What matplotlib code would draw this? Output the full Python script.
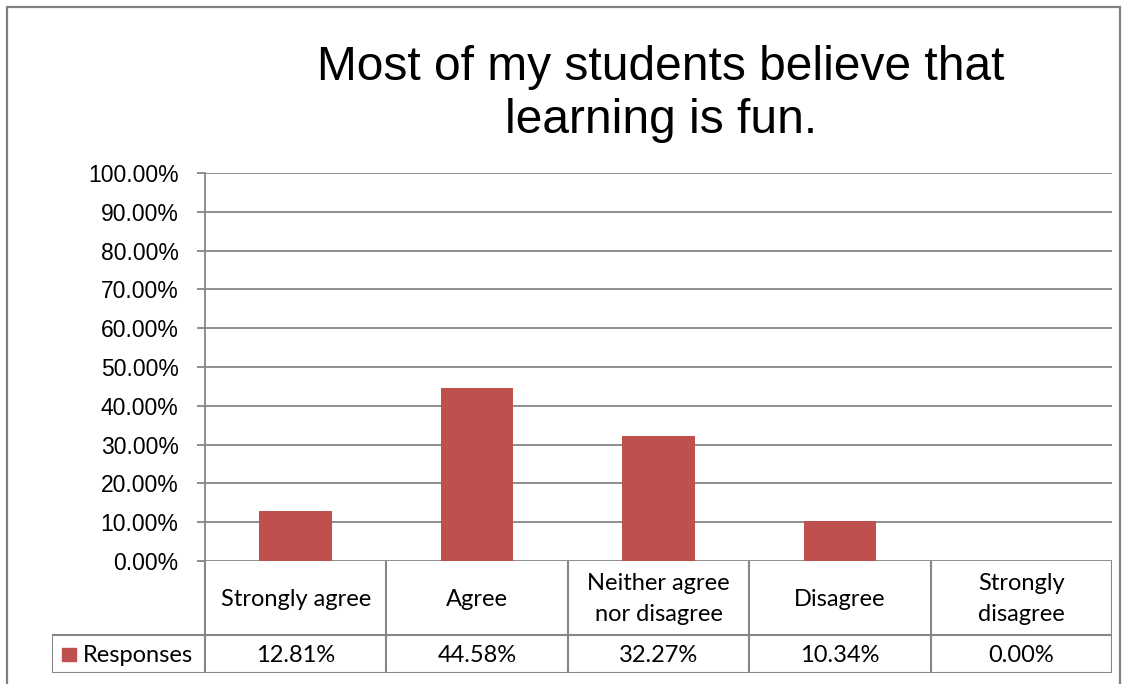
import matplotlib.pyplot as plt
from matplotlib.patches import Rectangle
from matplotlib.ticker import PercentFormatter

# data
categories = ["Strongly agree", "Agree", "Neither agree\nnor disagree", "Disagree", "Strongly\ndisagree"]
responses = [12.81, 44.58, 32.27, 10.34, 0.00]
series_name = "Responses"
title = "Most of my students believe that\nlearning is fun."

W, H = 1129, 684
BAR = "#C0504D"
GRID = "#868686"
TABLE_FONT = ["Lato", "DejaVu Sans"]
AXIS_FONT = ["Liberation Sans", "DejaVu Sans"]


def px_box(x0, y0, x1, y1):
    # pixel box (top-left origin) -> figure fraction rect
    return [x0 / W, 1 - y1 / H, (x1 - x0) / W, (y1 - y0) / H]


fig = plt.figure(figsize=(W / 100, H / 100), dpi=100)

# outer chart border (bottom runs off the image)
fig.patches.append(Rectangle((7 / W, -0.05), (1120 - 7) / W, 1 - 7 / H + 0.05,
                             transform=fig.transFigure, fill=False,
                             edgecolor="#808080", linewidth=1.6))

# plot area
ax = fig.add_axes(px_box(205, 173, 1112, 561))
x = range(len(categories))
ax.bar(x, responses, width=0.4, color=BAR, zorder=3)
ax.set_xlim(-0.5, len(categories) - 0.5)
ax.set_ylim(0, 100)
ax.set_yticks(range(0, 101, 10))
ax.yaxis.set_major_formatter(PercentFormatter(decimals=2))
ax.grid(axis="y", color=GRID, linewidth=1.3, zorder=0)
ax.set_xticks([])
for s in ["top", "right", "bottom"]:
    ax.spines[s].set_visible(False)
ax.spines["left"].set_color(GRID)
ax.spines["left"].set_linewidth(1.3)
ax.tick_params(axis="y", length=6, width=1.3, color=GRID, pad=13)
for lab in ax.get_yticklabels():
    lab.set_fontfamily(AXIS_FONT)
    lab.set_fontsize(16.5)
    lab.set_color("#000000")

fig.text(661 / W, 1 - 94 / H, title, ha="center", va="center",
         fontsize=34.5, family=AXIS_FONT, linespacing=1.25)

# data table under the plot, sharing the category columns
ncat = len(categories)
colw = (1112 - 205) / ncat
left_ext = (205 - 52) / colw
tab = fig.add_axes(px_box(52, 561, 1112, 673))
tab.set_xlim(-0.5 - left_ext, ncat - 0.5)
tab.set_ylim(0, 112)
tab.axis("off")
lc = dict(color=GRID, linewidth=1.5, solid_capstyle="projecting")
val_top = 38
tab.plot([-0.5 - left_ext, ncat - 0.5], [0, 0], **lc)
tab.plot([-0.5 - left_ext, ncat - 0.5], [val_top, val_top], **lc)
tab.plot([-0.5 - left_ext, -0.5 - left_ext], [0, val_top], **lc)
for i in range(ncat + 1):
    tab.plot([i - 0.5, i - 0.5], [0, 112], **lc)
for i, (cat, v) in enumerate(zip(categories, responses)):
    tab.text(i, (val_top + 112) / 2 - 1, cat, ha="center", va="center",
             fontsize=17, family=TABLE_FONT, linespacing=1.55)
    tab.text(i, val_top / 2 - 2, f"{v:.2f}%", ha="center", va="center",
             fontsize=17, family=TABLE_FONT)
# legend key in the first cell
key_w = 14 / colw
tab.add_patch(Rectangle((-0.5 - left_ext + 10 / colw, 12), key_w, 13, color=BAR))
tab.text(-0.5 - left_ext + 31 / colw, val_top / 2 - 2, series_name, ha="left", va="center",
         fontsize=17, family=TABLE_FONT)

fig.savefig("out.png", dpi=100)
